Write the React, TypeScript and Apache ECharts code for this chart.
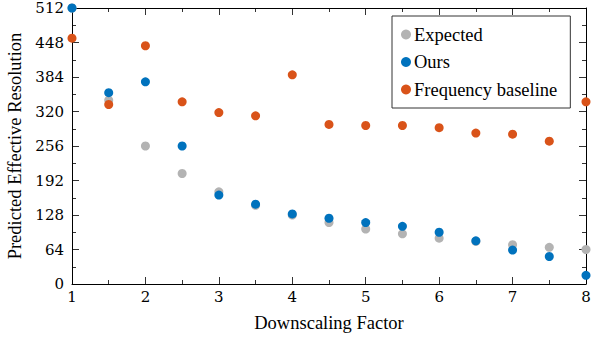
import React, { useEffect, useRef } from "react";
import * as echarts from "echarts";

const factors = [1, 1.5, 2, 2.5, 3, 3.5, 4, 4.5, 5, 5.5, 6, 6.5, 7, 7.5, 8];
const expected = [512, 341, 256, 205, 171, 146, 128, 114, 102, 93, 85, 79, 73, 68, 64];
const ours = [512, 355, 375, 256, 165, 148, 130, 122, 114, 107, 96, 80, 63, 51, 16];
const freqBaseline = [456, 333, 442, 338, 318, 312, 388, 296, 294, 294, 290, 280, 278, 265, 338];

const seriesNames = ["Expected", "Ours", "Frequency baseline"];
const seriesColors = ["#b3b3b3", "#0072bd", "#d95319"];

const FONT = "Liberation Serif";
const TICK_FONT = "DejaVu Serif";

export default function App() {
  const ref = useRef<HTMLDivElement>(null);
  useEffect(() => {
    if (!ref.current) return;
    const chart = echarts.init(ref.current, undefined, { renderer: "svg" });
    const toPairs = (arr: number[]) => factors.map((f, i) => [f, arr[i]]);
    const allData = [expected, ours, freqBaseline];

    const L = 72, R = 6, T = 8, B = 53, MAJ = 7, MIN = 4;
    const base = { outerBoundsMode: "none", containLabel: false };
    const grids = [
      { ...base, left: L, right: R, top: T, bottom: B },
      { ...base, left: L, right: R, bottom: B, height: MAJ },
      { ...base, left: L, right: R, bottom: B, height: MIN },
      { ...base, left: L, right: R, top: T, height: MAJ },
      { ...base, left: L, right: R, top: T, height: MIN },
      { ...base, left: L, width: MAJ, top: T, bottom: B },
      { ...base, left: L, width: MIN, top: T, bottom: B },
      { ...base, right: R, width: MAJ, top: T, bottom: B },
      { ...base, right: R, width: MIN, top: T, bottom: B },
    ];

    const tickLine = { show: true, lineStyle: { color: "#333", width: 1, type: "solid" } };
    const tickAxis = (gridIndex: number, min: number, max: number, interval: number) => ({
      type: "value",
      gridIndex,
      min,
      max,
      interval,
      axisLine: { show: false },
      axisTick: { show: false },
      axisLabel: { show: false },
      splitLine: tickLine,
    });
    const hiddenAxis = (gridIndex: number) => ({ type: "value", gridIndex, show: false, min: 0, max: 1 });
    const frameAxis = (extra: any) => ({
      type: "value",
      axisLine: { show: true, onZero: false, lineStyle: { color: "#000", width: 1 } },
      axisTick: { show: false },
      minorTick: { show: false },
      splitLine: { show: false },
      ...extra,
    });

    chart.setOption({
      animation: false,
      grid: grids,
      legend: {
        orient: "vertical",
        left: 392,
        top: 16,
        data: seriesNames,
        icon: "circle",
        itemWidth: 10,
        itemHeight: 10,
        itemGap: 8.5,
        padding: [9, 13, 9, 9],
        borderColor: "#333",
        borderWidth: 1,
        textStyle: { fontFamily: FONT, fontSize: 18.5, color: "#000", padding: [0, 0, 0, -2] },
      },
      xAxis: [
        frameAxis({
          gridIndex: 0,
          min: 1,
          max: 8,
          interval: 1,
          name: "Downscaling Factor",
          nameLocation: "middle",
          nameGap: 29,
          nameTextStyle: { fontFamily: FONT, fontSize: 18.5, color: "#000" },
          axisLabel: { fontFamily: TICK_FONT, fontSize: 15, color: "#000", margin: 5 },
        }),
        frameAxis({ gridIndex: 0, position: "top", min: 1, max: 8, interval: 1, axisLabel: { show: false } }),
        tickAxis(1, 1, 8, 1),
        tickAxis(2, 1, 8, 0.5),
        tickAxis(3, 1, 8, 1),
        tickAxis(4, 1, 8, 0.5),
        hiddenAxis(5),
        hiddenAxis(6),
        hiddenAxis(7),
        hiddenAxis(8),
      ],
      yAxis: [
        frameAxis({
          gridIndex: 0,
          min: 0,
          max: 512,
          interval: 64,
          name: "Predicted Effective Resolution",
          nameLocation: "middle",
          nameGap: 48,
          nameTextStyle: { fontFamily: FONT, fontSize: 18.5, color: "#000" },
          axisLabel: { fontFamily: TICK_FONT, fontSize: 15, color: "#000", margin: 8 },
        }),
        frameAxis({ gridIndex: 0, position: "right", min: 0, max: 512, interval: 64, axisLabel: { show: false } }),
        hiddenAxis(1),
        hiddenAxis(2),
        hiddenAxis(3),
        hiddenAxis(4),
        tickAxis(5, 0, 512, 64),
        tickAxis(6, 0, 512, 32),
        tickAxis(7, 0, 512, 64),
        tickAxis(8, 0, 512, 32),
      ],
      series: seriesNames.map((name, i) => ({
        name,
        type: "scatter",
        xAxisIndex: 0,
        yAxisIndex: 0,
        symbol: "circle",
        symbolSize: 9,
        clip: false,
        z: 5,
        itemStyle: { color: seriesColors[i], opacity: 1 },
        data: toPairs(allData[i]),
      })),
    });
    return () => chart.dispose();
  }, []);
  return <div ref={ref} style={{ width: 592, height: 337, position: "absolute", left: 0, top: 0 }} />;
}
